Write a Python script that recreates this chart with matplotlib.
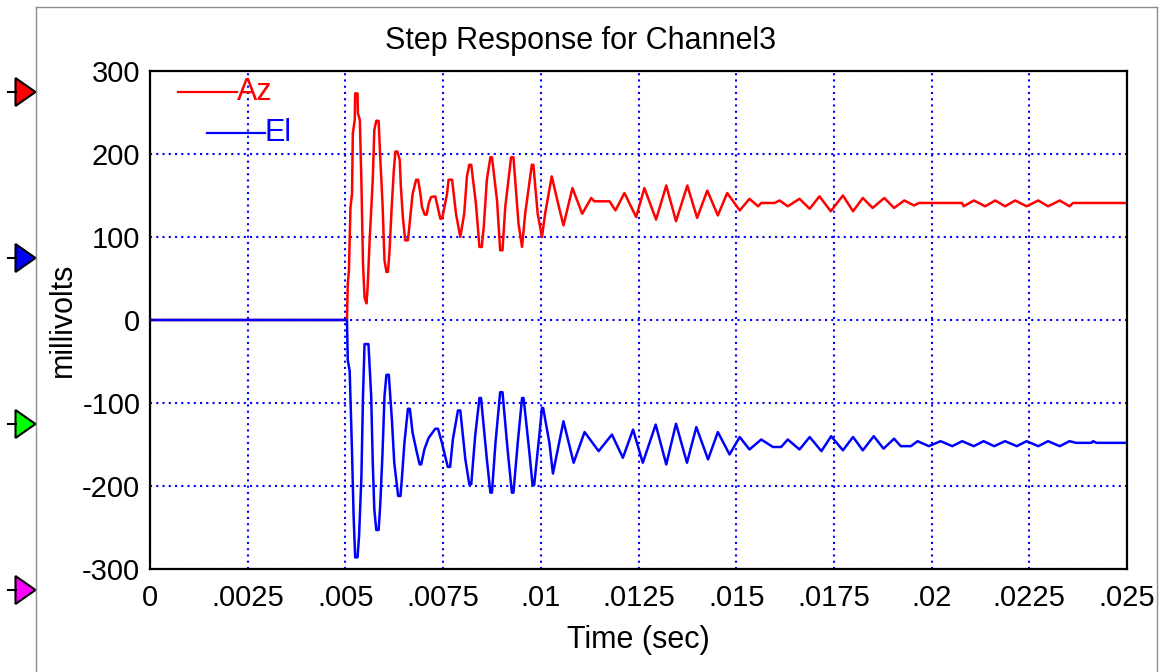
import matplotlib
matplotlib.use("Agg")
import matplotlib.pyplot as plt
from matplotlib.patches import Polygon

plt.rcParams['font.family'] = ['Liberation Sans', 'DejaVu Sans']

# Az channel, (time in sec, millivolts)
az_t = [0, 0.00504, 0.00506, 0.00509, 0.00513, 0.00517, 0.00519, 0.00524, 0.00525, 0.00531,
        0.00532, 0.00537, 0.00541, 0.00545, 0.00549, 0.00554, 0.00557, 0.00562, 0.00570, 0.00574,
        0.00579, 0.00585, 0.00589, 0.00595, 0.00600, 0.00605, 0.00609, 0.00613, 0.00618, 0.00624,
        0.00628, 0.00633, 0.00639, 0.00642, 0.00647, 0.00653, 0.00660, 0.00666, 0.00672, 0.00681,
        0.00686, 0.00692, 0.00696, 0.00703, 0.00708, 0.00713, 0.00719, 0.00730, 0.00743, 0.00747,
        0.00751, 0.00760, 0.00764, 0.00773, 0.00783, 0.00794, 0.00804, 0.00811, 0.00817, 0.00822,
        0.00834, 0.00843, 0.00849, 0.00854, 0.00862, 0.00871, 0.00875, 0.00888, 0.00896, 0.00902,
        0.00909, 0.00924, 0.00930, 0.00943, 0.00952, 0.00960, 0.00977, 0.00981, 0.00992, 0.01003,
        0.01011, 0.01028, 0.01049, 0.01058, 0.01081, 0.01106, 0.01129, 0.01137, 0.01176, 0.01191,
        0.01214, 0.01244, 0.01265, 0.01295, 0.01321, 0.01346, 0.01375, 0.01400, 0.01426, 0.01453,
        0.01477, 0.01509, 0.01534, 0.01556, 0.01564, 0.01598, 0.01611, 0.01632, 0.01662, 0.01688,
        0.01713, 0.01742, 0.01773, 0.01799, 0.01824, 0.01849, 0.01879, 0.01904, 0.01930, 0.01955,
        0.01968, 0.02078, 0.02082, 0.02108, 0.02137, 0.02163, 0.02188, 0.02214, 0.02243, 0.02273,
        0.02298, 0.02328, 0.02353, 0.02362, 0.025]
az_v = [0, 0, 43, 60, 136, 152, 225, 241, 273, 273,
        249, 241, 165, 68, 27, 20, 40, 96, 169, 229,
        240, 240, 197, 140, 72, 58, 58, 84, 132, 181,
        203, 203, 193, 160, 124, 96, 96, 124, 152, 169,
        169, 152, 136, 127, 127, 140, 148, 149, 122, 122,
        130, 152, 169, 169, 128, 100, 128, 173, 187, 187,
        140, 88, 88, 112, 169, 196, 196, 144, 84, 84,
        136, 196, 196, 116, 88, 128, 187, 187, 128, 100,
        128, 173, 131, 114, 159, 128, 147, 143, 143, 132,
        153, 124, 159, 121, 162, 119, 162, 123, 156, 126,
        153, 132, 146, 137, 141, 141, 144, 137, 146, 134,
        149, 131, 150, 131, 147, 135, 147, 135, 144, 138,
        141, 141, 137, 144, 137, 144, 137, 144, 137, 144,
        137, 144, 137, 141, 141]

# El channel
el_t = [0, 0.00504, 0.00506, 0.00511, 0.00517, 0.00521, 0.00525, 0.00531, 0.00535, 0.00541,
        0.00545, 0.00549, 0.00559, 0.00566, 0.00570, 0.00574, 0.00579, 0.00585, 0.00589, 0.00595,
        0.00600, 0.00605, 0.00611, 0.00619, 0.00625, 0.00635, 0.00641, 0.00645, 0.00651, 0.00660,
        0.00665, 0.00672, 0.00683, 0.00690, 0.00694, 0.00702, 0.00713, 0.00730, 0.00737, 0.00747,
        0.00762, 0.00768, 0.00775, 0.00788, 0.00794, 0.00807, 0.00817, 0.00822, 0.00832, 0.00843,
        0.00847, 0.00862, 0.00871, 0.00875, 0.00884, 0.00896, 0.00902, 0.00915, 0.00926, 0.00930,
        0.00941, 0.00952, 0.00956, 0.00970, 0.00979, 0.00983, 0.00996, 0.01003, 0.01006, 0.01022,
        0.01031, 0.01058, 0.01084, 0.01112, 0.01148, 0.01182, 0.01210, 0.01236, 0.01261, 0.01294,
        0.01321, 0.01346, 0.01374, 0.01398, 0.01428, 0.01453, 0.01483, 0.01509, 0.01534, 0.01564,
        0.01594, 0.01615, 0.01632, 0.01662, 0.01688, 0.01718, 0.01743, 0.01773, 0.01799, 0.01824,
        0.01852, 0.01877, 0.01904, 0.01921, 0.01947, 0.01964, 0.01993, 0.02023, 0.02053, 0.02078,
        0.02108, 0.02133, 0.02160, 0.02188, 0.02218, 0.02243, 0.02273, 0.02298, 0.02328, 0.02353,
        0.02370, 0.02409, 0.02413, 0.02422, 0.025]
el_v = [0, 0, -48, -62, -160, -236, -286, -286, -260, -188,
        -92, -29, -29, -92, -172, -228, -253, -253, -224, -160,
        -92, -66, -66, -120, -172, -212, -212, -188, -148, -107,
        -107, -136, -160, -174, -174, -156, -142, -131, -131, -148,
        -177, -177, -144, -109, -109, -168, -198, -198, -140, -94,
        -94, -168, -208, -208, -148, -87, -87, -156, -208, -208,
        -148, -94, -94, -156, -199, -199, -140, -106, -106, -148,
        -185, -122, -172, -135, -158, -138, -166, -132, -172, -126,
        -174, -125, -172, -129, -168, -135, -162, -141, -156, -144,
        -153, -153, -144, -156, -141, -158, -140, -157, -141, -157,
        -140, -155, -143, -152, -152, -146, -152, -146, -152, -146,
        -152, -146, -152, -146, -152, -146, -152, -146, -152, -146,
        -148, -148, -146, -148, -148]

x_ticks = [0, 0.0025, 0.005, 0.0075, 0.01, 0.0125, 0.015, 0.0175, 0.02, 0.0225, 0.025]
x_labels = ['0', '.0025', '.005', '.0075', '.01', '.0125', '.015', '.0175', '.02', '.0225', '.025']
y_ticks = [-300, -200, -100, 0, 100, 200, 300]
y_labels = ['-300', '-200', '-100', '0', '100', '200', '300']

# channel markers at the left edge (pixel rows)
marker_y = [92, 258, 424, 590]
marker_colors = ['#ff0000', '#0000ff', '#00ff00', '#ff00ff']

W, H = 1162, 672
fig = plt.figure(figsize=(W / 100, H / 100), dpi=100)

# background frame + channel triangles, drawn in pixel space
bg = fig.add_axes([0, 0, 1, 1], zorder=-1)
bg.set_xlim(0, W)
bg.set_ylim(H, 0)
bg.axis('off')
frame_col = '#8c8c8c'
bg.plot([35.5, 35.5], [7, H], color=frame_col, lw=1)
bg.plot([35.5, 1157], [7, 7], color=frame_col, lw=1)
bg.plot([1157, 1157], [7, H], color=frame_col, lw=1)
for y, c in zip(marker_y, marker_colors):
    bg.plot([8, 16], [y, y], color='k', lw=1.5)
    bg.add_patch(Polygon([[15.5, y - 14], [15.5, y + 14], [35.5, y]], closed=True,
                         fc=c, ec='k', lw=1.5))

ax = fig.add_axes([150 / W, (H - 569) / H, 977 / W, 498 / H])
ax.plot(az_t, az_v, color='#ff0000', lw=1.8, solid_joinstyle='round')
ax.plot(el_t, el_v, color='#0000ff', lw=1.8, solid_joinstyle='round')
ax.set_xlim(0, 0.025)
ax.set_ylim(-300, 300)
ax.set_xticks(x_ticks)
ax.set_xticklabels(x_labels)
ax.set_yticks(y_ticks)
ax.set_yticklabels(y_labels)
ax.tick_params(length=0, labelsize=21)
ax.tick_params(axis='x', pad=11)
ax.tick_params(axis='y', pad=7)
ax.set_axisbelow(True)
ax.grid(True, color='#0000ff', linestyle=(0, (1, 2)), lw=1.5)
for sp in ax.spines.values():
    sp.set_linewidth(1.6)
    sp.set_color('k')

# staggered legend like the scope software draws it
ax.plot([0.0287, 0.089], [0.958, 0.958], transform=ax.transAxes, color='#ff0000', lw=1.6)
ax.text(0.089, 0.958, 'Az', transform=ax.transAxes, color='#ff0000', va='center', fontsize=22)
ax.plot([0.0583, 0.1177], [0.8755, 0.8755], transform=ax.transAxes, color='#0000ff', lw=1.6)
ax.text(0.1177, 0.8755, 'El', transform=ax.transAxes, color='#0000ff', va='center', fontsize=22)

fig.text(0.5, 1 - 41 / H, 'Step Response for Channel3', ha='center', va='center', fontsize=22)
fig.text(63 / W, 1 - 320 / H, 'millivolts', rotation=90, ha='center', va='center', fontsize=22)
fig.text(638.5 / W, 1 - 640 / H, 'Time (sec)', ha='center', va='center', fontsize=22)

fig.savefig('out.png', dpi=100)
